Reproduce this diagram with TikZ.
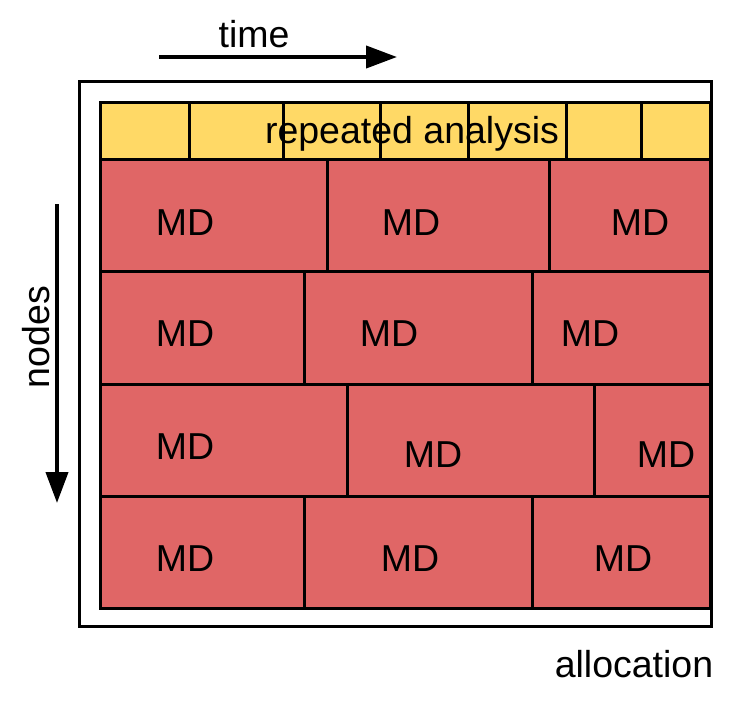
\documentclass[tikz,border=0pt]{standalone}
\usepackage{fontspec}
\setmainfont{Liberation Sans}
\usetikzlibrary{arrows.meta}
\definecolor{mdred}{HTML}{E06666}
\definecolor{anayellow}{HTML}{FFD966}
\tikzset{
  cell/.style={draw=black, line width=3pt},
  lbl/.style={inner sep=0pt, font=\fontsize{37.5}{42}\selectfont},
  bigarrow/.style={line width=4pt, -{Triangle[length=31pt,width=22pt]}}
}
\begin{document}
\begin{tikzpicture}[x=1pt, y=-1pt, line join=miter]
\useasboundingbox (0,0) rectangle (747,702);
% outer allocation frame
\draw[line width=3pt] (79,81) rectangle (711,626);
% repeated analysis strip
\foreach \a/\b in {100/189,189/283,283/380,380/468,468/566,566/641,641/710}
  \draw[cell, fill=anayellow] (\a,102) rectangle (\b,159);
% MD rows: top/bottom/first cut/second cut
\foreach \t/\u/\p/\q in {159/271/327/549, 271/384/304/532, 384/496/347/594, 496/608/304/532}{
  \draw[cell, fill=mdred] (100,\t) rectangle (\p,\u);
  \draw[cell, fill=mdred] (\p,\t) rectangle (\q,\u);
  \draw[cell, fill=mdred] (\q,\t) rectangle (710,\u);
}
\node[lbl, anchor=base] (rep) at (412,143) {repeated analysis};
\foreach \x/\y [count=\i] in {185/223,411/223,640/223, 185/334,389/334,590/334,
                              185/447,433/455,666/455, 185/559,410/559,623/559}
  \node[lbl] (md\i) at (\x,\y) {MD};
% axes
\coordinate (ts) at (159,57);
\coordinate (te) at (397,57);
\draw[bigarrow] (ts) -- (te);
\node[lbl, anchor=base] (time) at (254,47) {time};
\coordinate (ns) at (57,204);
\coordinate (ne) at (57,503);
\draw[bigarrow] (ns) -- (ne);
\node[lbl, rotate=90] (nodes) at (36,337) {nodes};
\node[lbl, anchor=base] (alloc) at (634,677) {allocation};
\end{tikzpicture}
\end{document}
